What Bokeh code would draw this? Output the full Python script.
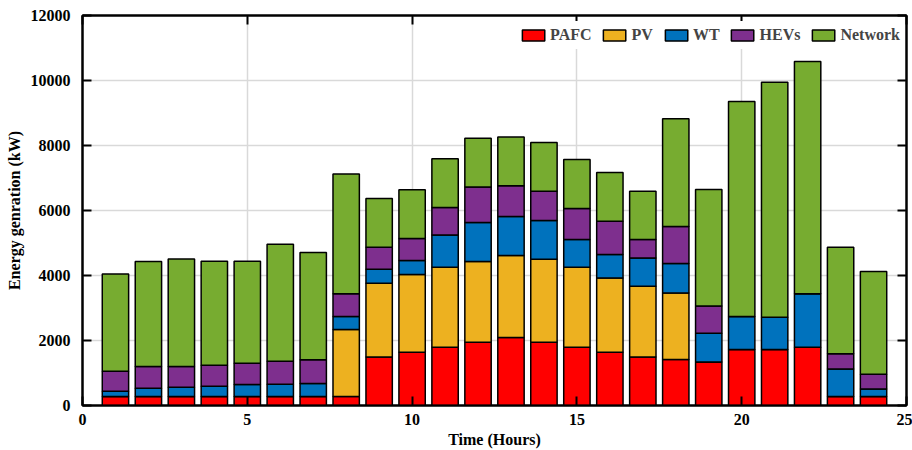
from bokeh.plotting import figure
from bokeh.models import ColumnDataSource, LinearAxis, FixedTicker, Range1d, Legend
from bokeh.embed import file_html
from bokeh.resources import INLINE

hours = list(range(1, 25))
PAFC = [280, 280, 280, 280, 280, 280, 280, 280, 1490, 1640, 1795, 1950,
        2090, 1950, 1795, 1640, 1490, 1415, 1335, 1725, 1725, 1795, 280, 280]
PV = [0, 0, 0, 0, 0, 0, 0, 2060, 2275, 2390, 2460, 2480,
      2525, 2550, 2460, 2280, 2180, 2050, 0, 0, 0, 0, 0, 0]
WT = [160, 250, 285, 315, 365, 375, 400, 400, 430, 430, 995, 1200,
      1200, 1190, 855, 725, 870, 905, 890, 1015, 990, 1640, 840, 230]
HEVs = [615, 670, 635, 645, 655, 710, 725, 695, 675, 680, 840, 1090,
        945, 905, 950, 1025, 570, 1140, 840, 0, 0, 0, 470, 455]
Network = [2995, 3230, 3310, 3200, 3140, 3600, 3305, 3685, 1500, 1495, 1500, 1505,
           1505, 1495, 1510, 1500, 1485, 3310, 3580, 6615, 7235, 7150, 3280, 3160]

series = ["PAFC", "PV", "WT", "HEVs", "Network"]
colors = ["#FF0000", "#EDB120", "#0072BD", "#7E2F8E", "#77AC30"]
x_ticks = [0, 5, 10, 15, 20, 25]
y_ticks = [0, 2000, 4000, 6000, 8000, 10000, 12000]

src = ColumnDataSource(dict(hours=hours, PAFC=PAFC, PV=PV, WT=WT, HEVs=HEVs, Network=Network))

FONT = "Liberation Serif"

p = figure(width=912, height=450, output_backend="svg", toolbar_location=None,
           x_range=Range1d(0, 25), y_range=Range1d(0, 12000),
           min_border_left=82, min_border_right=6, min_border_top=15, min_border_bottom=45)

renderers = p.vbar_stack(series, x="hours", width=0.8, source=src, fill_color=colors,
                         line_color="black", line_width=1.5)

p.outline_line_color = "black"
p.outline_line_width = 2

for ax, ticks in ((p.xaxis[0], x_ticks), (p.yaxis[0], y_ticks)):
    ax.ticker = FixedTicker(ticks=ticks)
    ax.major_tick_in = 9
    ax.major_tick_out = 0
    ax.minor_tick_line_color = None
    ax.major_tick_line_width = 2
    ax.axis_line_width = 2
    ax.major_label_text_font = FONT
    ax.major_label_text_font_style = "bold"
    ax.major_label_text_font_size = "16px"
    ax.major_label_text_color = "black"
    ax.axis_label_text_font = FONT
    ax.axis_label_text_font_style = "bold"
    ax.axis_label_text_font_size = "16px"
    ax.axis_label_text_color = "black"

p.xaxis[0].axis_label = "Time (Hours)"
p.xaxis[0].major_label_standoff = 8
p.xaxis[0].axis_label_standoff = 3
p.yaxis[0].axis_label = "Energy genration (kW)"
p.yaxis[0].major_label_standoff = 12
p.yaxis[0].axis_label_standoff = 5

for side, ticks in (("right", y_ticks), ("above", x_ticks)):
    ax = LinearAxis(ticker=FixedTicker(ticks=ticks), major_tick_in=9, major_tick_out=0,
                    minor_tick_line_color=None, major_tick_line_width=2, axis_line_width=2,
                    major_label_overrides={t: "" for t in ticks},
                    major_label_text_color=None, major_label_standoff=0)
    p.add_layout(ax, side)

p.xgrid.ticker = FixedTicker(ticks=x_ticks)
p.ygrid.ticker = FixedTicker(ticks=y_ticks)
p.grid.grid_line_color = "#d9d9d9"
p.grid.grid_line_width = 1.5

legend = Legend(items=[(s, [r]) for s, r in zip(series, renderers)],
                orientation="horizontal", location="top_right",
                glyph_width=28, glyph_height=14, label_standoff=3, spacing=9,
                label_text_font=FONT, label_text_font_style="bold",
                label_text_font_size="16px", label_height=28,
                padding=2, margin=6, border_line_color=None,
                background_fill_color="white", background_fill_alpha=1.0)
p.add_layout(legend)

open("out.html", "w").write(file_html(p, INLINE))
